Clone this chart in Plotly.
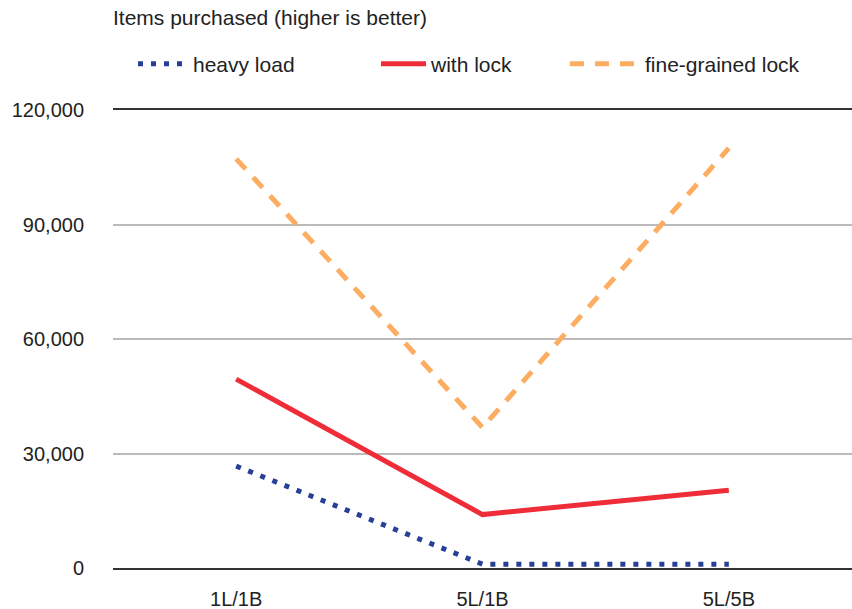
import plotly.graph_objects as go

categories = ["1L/1B", "5L/1B", "5L/5B"]
heavy_load = [26700, 1000, 1000]
with_lock = [49500, 14000, 20400]
fine_grained_lock = [107200, 36800, 110000]
y_ticks = [0, 30000, 60000, 90000, 120000]
y_tick_labels = ["0", "30,000", "60,000", "90,000", "120,000"]

FONT = "Liberation Sans, Arial, Helvetica, sans-serif"

fig = go.Figure()
fig.add_trace(go.Scatter(x=categories, y=heavy_load, name="heavy load", mode="lines",
                         line=dict(color="#283f98", width=5, dash="5px,8px"), legend="legend"))
fig.add_trace(go.Scatter(x=categories, y=with_lock, name="with lock", mode="lines",
                         line=dict(color="#ee2d38", width=5), legend="legend2"))
fig.add_trace(go.Scatter(x=categories, y=fine_grained_lock, name="fine-grained lock", mode="lines",
                         line=dict(color="#fcad62", width=5, dash="14px,11px"), legend="legend3"))

def leg(x, w):
    return dict(orientation="h", xref="container", yref="container",
                x=x/852, xanchor="left", y=1 - 64/609, yanchor="middle",
                font=dict(family=FONT, size=21, color="#222222"),
                itemwidth=w, bgcolor="rgba(0,0,0,0)")

fig.update_layout(
    width=852, height=609,
    margin=dict(l=113, r=0, t=110, b=41),
    plot_bgcolor="white", paper_bgcolor="white",
    font=dict(family=FONT, size=20, color="#333333"),
    title=dict(text="Items purchased (higher is better)", x=113/852, xanchor="left",
               y=1 - 18/609, yanchor="middle", xref="container", yref="container",
               font=dict(family=FONT, size=21, color="#222222")),
    legend=leg(133, 50),
    legend2=leg(376, 45),
    legend3=leg(565, 70),
    showlegend=True,
)
fig.update_xaxes(type="category", range=[-0.5, 2.5], showgrid=False,
                 showline=True, linecolor="#333333", linewidth=1.5, mirror=True,
                 ticks="", tickfont=dict(size=20, color="#222222"), ticklabelstandoff=12)
fig.update_yaxes(range=[0, 120000], tickvals=y_ticks, ticktext=y_tick_labels,
                 showgrid=True, gridcolor="#bbbbbb", gridwidth=1.5, zeroline=False,
                 showline=False, ticks="", tickfont=dict(size=20, color="#222222"),
                 ticklabelstandoff=28)

fig.write_html("out.html", config={"displayModeBar": False},
               post_script="document.body.style.margin='0';document.body.style.overflow='hidden';")
